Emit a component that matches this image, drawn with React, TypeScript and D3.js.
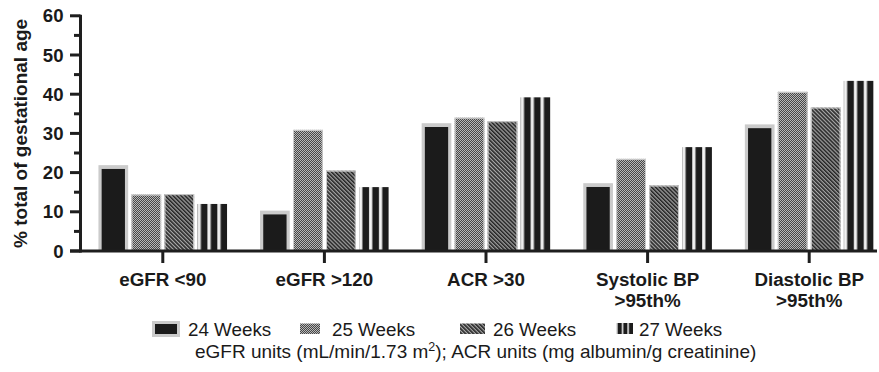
import React from "react";
import * as d3 from "d3";

const categories = ["eGFR <90", "eGFR >120", "ACR >30", "Systolic BP >95th%", "Diastolic BP >95th%"];
const categoryLines = [["eGFR <90"], ["eGFR >120"], ["ACR >30"], ["Systolic BP", ">95th%"], ["Diastolic BP", ">95th%"]];
const series = ["24 Weeks", "25 Weeks", "26 Weeks", "27 Weeks"];
const weeks24 = [21.9, 10.3, 32.6, 17.3, 32.3];
const weeks25 = [14.4, 30.9, 34.0, 23.5, 40.6];
const weeks26 = [14.5, 20.5, 33.1, 16.7, 36.6];
const weeks27 = [12.0, 16.3, 39.2, 26.5, 43.4];
const majorTicks = [0, 10, 20, 30, 40, 50, 60];
const minorTicks = [5, 15, 25, 35, 45, 55];
const yTitle = "% total of gestational age";
const footnoteA = "eGFR units (mL/min/1.73 m";
const footnoteSup = "2";
const footnoteB = "); ACR units (mg albumin/g creatinine)";

const values = [weeks24, weeks25, weeks26, weeks27];
const W = 879, H = 372;
const FONT = "'Liberation Sans', Arial, Helvetica, sans-serif";
const AX = "#1e1e1e";

export default function App() {
  const y = d3.scaleLinear().domain([0, 60]).range([251, 15.8]);
  const x0 = d3.scaleBand().domain(categories).range([82, 890]);
  const x1 = d3.scaleBand().domain(series).range([-66, 66]).paddingInner(0.1).paddingOuter(0.05);
  const fills = ["", "url(#checker)", "url(#diag)", "url(#stripes)"];

  const legendItems = [
    { sx: 152, sw: 28, tx: 188 },
    { sx: 300, sw: 20, tx: 332 },
    { sx: 460, sw: 25, tx: 493 },
    { sx: 616, sw: 17, tx: 639 },
  ];

  return (
    <svg width={W} height={H} style={{ position: "absolute", left: 0, top: 0, background: "#fff" }} fontFamily={FONT}>
      <defs>
        <pattern id="checker" patternUnits="userSpaceOnUse" width={2} height={2}>
          <rect width={2} height={2} fill="#474747" />
          <rect x={0} y={0} width={1} height={1} fill="#b8b8b8" />
          <rect x={1} y={1} width={1} height={1} fill="#b8b8b8" />
        </pattern>
        <pattern id="diag" patternUnits="userSpaceOnUse" width={2.8} height={2.8} patternTransform="rotate(-45)">
          <rect width={2.8} height={2.8} fill="#a8a8a8" />
          <rect x={0} y={0} width={1.6} height={2.8} fill="#262626" />
        </pattern>
        <pattern id="stripes" patternUnits="objectBoundingBox" width={1 / 3} height={1}>
          <rect x={0} y={0} width={3.4} height={1000} fill="#d6d6d6" />
          <rect x={0.9} y={0} width={1.6} height={1000} fill="#f4f4f4" />
          <rect x={3.4} y={0} width={6.6} height={1000} fill="#1c1c1c" />
        </pattern>
        <pattern id="stripesLegend" patternUnits="objectBoundingBox" width={1 / 3} height={1}>
          <rect x={0} y={0} width={1.6} height={100} fill="#e0e0e0" />
          <rect x={1.6} y={0} width={4.2} height={100} fill="#1c1c1c" />
        </pattern>
      </defs>

      {/* bars */}
      {categories.map((c, ci) => {
        const cx = x0(c)! + x0.bandwidth() / 2;
        return (
          <g key={c}>
            {series.map((s, si) => {
              const v = values[si][ci];
              const bx = cx + x1(s)!;
              const bw = x1.bandwidth();
              const top = y(v);
              if (si === 0) {
                return (
                  <g key={s}>
                    <rect x={bx} y={top} width={bw} height={y(0) - top} fill="#cbcbcb" />
                    <rect x={bx + 3.2} y={top + 3.8} width={bw - 6.4} height={y(0) - top - 3.8} fill="#1b1b1b" />
                  </g>
                );
              }
              return (
                <g key={s}>
                  <rect x={bx} y={top} width={bw} height={y(0) - top} fill={fills[si]} />
                  {si !== 3 && (
                    <rect x={bx + 0.5} y={top + 0.5} width={bw - 1} height={y(0) - top - 0.5} fill="none" stroke="#d0d0d0" strokeWidth={1} />
                  )}
                </g>
              );
            })}
          </g>
        );
      })}

      {/* y axis */}
      <line x1={80.5} x2={80.5} y1={y(60) - 1} y2={y(0) + 1.5} stroke={AX} strokeWidth={3} />
      {majorTicks.map((t) => (
        <g key={"M" + t}>
          <line x1={70} x2={80.5} y1={y(t)} y2={y(t)} stroke={AX} strokeWidth={3} />
          <text x={63.5} y={y(t)} dy="0.36em" textAnchor="end" fontWeight="bold" fontSize={18.6} fill="#1a1a1a">
            {t}
          </text>
        </g>
      ))}
      {minorTicks.map((t) => (
        <line key={"m" + t} x1={74} x2={80.5} y1={y(t)} y2={y(t)} stroke={AX} strokeWidth={3} />
      ))}
      <g transform={`translate(27,${(y(0) + y(60)) / 2}) rotate(-90)`}>
        <text textAnchor="middle" fontWeight="bold" fontSize={19} fill="#1a1a1a">
          {yTitle}
        </text>
      </g>

      {/* x axis */}
      <line x1={70} x2={877} y1={y(0)} y2={y(0)} stroke={AX} strokeWidth={3} />
      {categories.map((c, ci) => {
        const cx = x0(c)! + x0.bandwidth() / 2;
        return (
          <g key={"x" + c}>
            <line x1={cx} x2={cx} y1={y(0)} y2={263} stroke={AX} strokeWidth={3} />
            {categoryLines[ci].map((ln, li) => (
              <text key={li} x={cx} y={286 + li * 21} textAnchor="middle" fontWeight="bold" fontSize={18.8} fill="#1a1a1a">
                {ln}
              </text>
            ))}
          </g>
        );
      })}

      {/* legend */}
      {series.map((s, si) => {
        const it = legendItems[si];
        let sw;
        if (si === 0) {
          sw = (
            <g>
              <rect x={it.sx} y={321} width={it.sw} height={16} fill="#cbcbcb" />
              <rect x={it.sx + 3} y={324} width={it.sw - 6} height={10} fill="#1b1b1b" />
            </g>
          );
        } else if (si === 3) {
          sw = <rect x={it.sx} y={323} width={it.sw} height={11} fill="url(#stripesLegend)" />;
        } else {
          sw = <rect x={it.sx} y={323.5} width={it.sw} height={10.5} fill={fills[si]} />;
        }
        return (
          <g key={"L" + s}>
            {sw}
            <text x={it.tx} y={336} fontSize={18.8} fill="#1a1a1a">
              {s}
            </text>
          </g>
        );
      })}
      <text x={195} y={358} fontSize={19} fill="#1a1a1a">
        {footnoteA}
        <tspan fontSize={12.5} dy={-7}>{footnoteSup}</tspan>
        <tspan dy={7}>{footnoteB}</tspan>
      </text>
    </svg>
  );
}
